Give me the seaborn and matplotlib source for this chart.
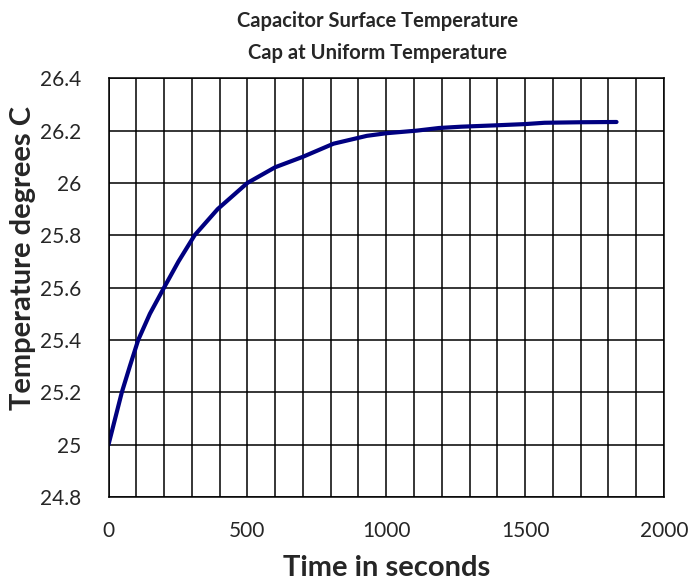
import numpy as np
import pandas as pd
import seaborn as sns
import matplotlib
matplotlib.use("Agg")
import matplotlib.pyplot as plt
from matplotlib.ticker import MultipleLocator, FuncFormatter

# Values
time_s = [0, 24, 48, 77, 107, 149, 200, 252, 310, 393, 500, 600, 700,
          810, 930, 1000, 1110, 1190, 1270, 1390, 1500, 1570, 1700, 1829]
temp_c = [25.00, 25.10, 25.20, 25.30, 25.40, 25.50, 25.60, 25.70, 25.80,
          25.90, 26.00, 26.06, 26.10, 26.15, 26.18, 26.19, 26.20, 26.21,
          26.215, 26.22, 26.225, 26.23, 26.232, 26.233]

data = pd.DataFrame({'time': time_s, 'temp': temp_c})

sns.set_style('white')
plt.rcParams['font.family'] = ['Lato', 'DejaVu Sans']

fig = plt.figure(figsize=(7, 5.86), dpi=100)
ax = fig.add_axes([0.155, 0.152, 0.7936, 0.7144])

sns.lineplot(data=data, x='time', y='temp', ax=ax, color='#000080',
             linewidth=3.0, solid_capstyle='round')

ax.set_xlim(0, 2000)
ax.set_ylim(24.8, 26.4)
ax.xaxis.set_major_locator(MultipleLocator(500))
ax.xaxis.set_minor_locator(MultipleLocator(100))
ax.yaxis.set_major_locator(MultipleLocator(0.2))
ax.yaxis.set_major_formatter(FuncFormatter(lambda v, p: '%g' % round(v, 1)))

ax.grid(which='major', axis='y', color='black', linewidth=1.1)
ax.grid(which='minor', axis='x', color='black', linewidth=1.1)
ax.grid(which='major', axis='x', color='black', linewidth=1.1)

for s in ax.spines.values():
    s.set_color('black')
    s.set_linewidth(1.1)

ax.tick_params(which='major', direction='inout', length=9, width=1.1,
               labelsize=15, color='black')
ax.tick_params(which='minor', length=0)
ax.tick_params(axis='x', pad=13)
ax.tick_params(axis='y', pad=15)

ax.set_xlabel('Time in seconds', fontsize=21, fontweight='bold', labelpad=10)
ax.set_ylabel('Temperature degrees C', fontsize=21, fontweight='bold')
ax.yaxis.set_label_coords(-0.131, 0.57)
ax.set_title('Capacitor Surface Temperature\nCap at Uniform Temperature',
             fontsize=14.5, fontweight='bold', pad=14, linespacing=1.75,
             x=0.485)

fig.savefig('out.png', dpi=100)
